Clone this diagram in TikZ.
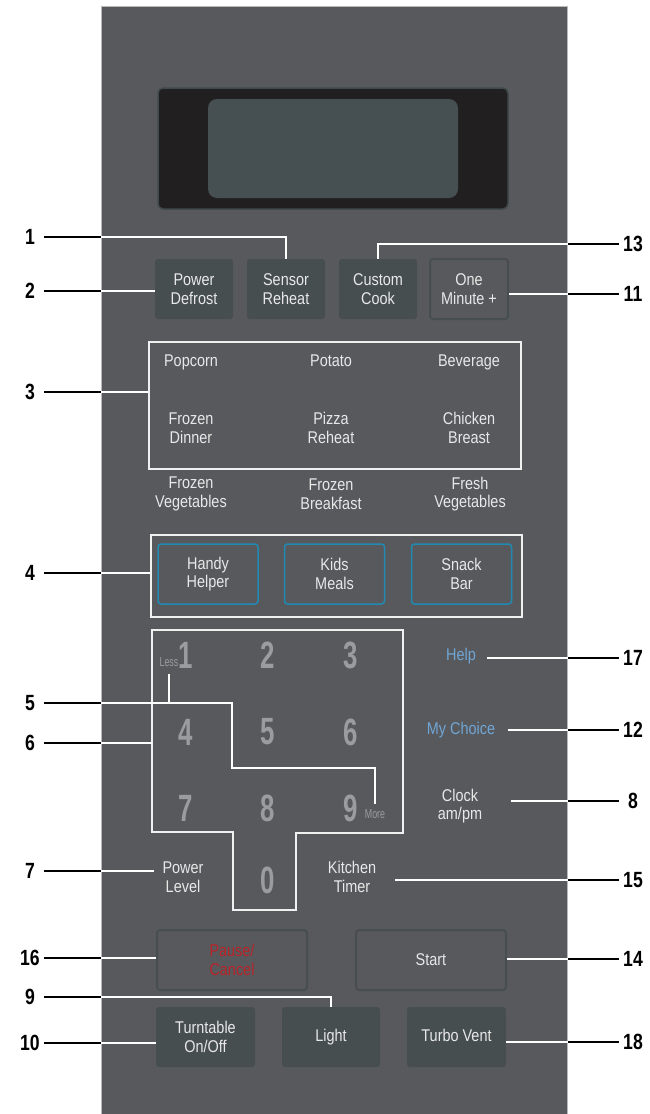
\documentclass[tikz,border=0pt]{standalone}
\usepackage{fontspec}
\setmainfont[FakeStretch=0.85]{Liberation Sans}
\newfontfamily\keyfont[FakeStretch=0.68]{Liberation Sans}
\newfontfamily\callfont[FakeStretch=0.8]{Liberation Sans}
\usepackage{xcolor}
\definecolor{panelgray}{RGB}{88,89,93}
\definecolor{slatekey}{RGB}{71,78,80}
\definecolor{lcdblack}{RGB}{34,31,32}
\definecolor{lcdglass}{RGB}{70,79,82}
\definecolor{lcdrim}{RGB}{64,74,76}
\definecolor{keyblue}{RGB}{32,138,178}
\definecolor{helpblue}{RGB}{112,166,212}
\definecolor{pausered}{RGB}{185,35,40}
\definecolor{keytext}{RGB}{232,232,232}
\definecolor{digitgray}{RGB}{155,156,160}

% callout lines, drawn twice: black outside the panel, white on it
\newcommand{\calloutlines}{%
  \draw[leader] (c1.east) -| (sensor.north);
  \draw[leader] (c2.east) -- (c2.east -| defrost.west);
  \draw[leader] (c13.west) -| (custom.north);
  \draw[leader] (c11.west) -- (c11.west -| oneminute.east);
  \draw[leader] (c3.east) -- (c3.east -| foodbox.west);
  \draw[leader] (c4.east) -- (c4.east -| helperbox.west);
  \draw[leader] (c5.east) -| (232,768) -| ([yshift=4pt]moretag.north);
  \draw[leader] ([yshift=-6pt]lesstag.south) -- (lesstag.south |- c5.east);
  \draw[leader] (c6.east) -- (c6.east -| kpa);
  \draw[leader] (c7.east) -- (c7.east -| powerlevel.west);
  \draw[leader] (c16.east) -- (c16.east -| pause.west);
  \draw[leader] (c9.east) -| (light.north);
  \draw[leader] (c10.east) -- (c10.east -| turntable.west);
  \draw[leader] (c17.west) -- (c17.west -| help.east);
  \draw[leader] (c12.west) -- (c12.west -| mychoice.east);
  \draw[leader] (c8.west) -- (c8.west -| clock.east);
  \draw[leader] (c15.west) -- (c15.west -| timer.east);
  \draw[leader] (c14.west) -- (c14.west -| start.east);
  \draw[leader] (c18.west) -- (c18.west -| turbo.east);
}

\begin{document}
\begin{tikzpicture}[x=1pt, y=-1pt,
  pad/.style={fill=slatekey, rounded corners=3pt, minimum width=78pt, minimum height=60pt,
    inner sep=0pt, text=keytext, align=center, font=\fontsize{17}{18.5}\selectfont},
  rimpad/.style={pad, fill=panelgray, draw=slatekey, line width=2pt},
  bluepad/.style={pad, fill=panelgray, draw=keyblue, line width=1.5pt, minimum width=100pt},
  frame/.style={draw=white!88!gray, line width=1.2pt, inner sep=0pt},
  item/.style={text=keytext, align=center, inner sep=0pt, font=\fontsize{17}{18.5}\selectfont},
  digit/.style={text=digitgray, font=\keyfont\bfseries\fontsize{38}{38}\selectfont},
  tag/.style={text=digitgray, inner sep=1pt, font=\keyfont\fontsize{13}{13}\selectfont},
  callout/.style={minimum width=28pt, inner sep=0pt, font=\callfont\bfseries\fontsize{22}{22}\selectfont},
  leader/.style={line width=1.3pt}]
\useasboundingbox (0,0) rectangle (649,1114);

% panel and display
\node[fill=panelgray, draw=gray!55, line width=0.8pt, anchor=north west, inner sep=0pt,
  minimum width=466pt, minimum height=1120pt] (panel) at (101,6) {};
\node[fill=lcdblack, draw=lcdrim, line width=1.5pt, rounded corners=5pt,
  minimum width=350pt, minimum height=121pt] (lcd) at (333,148.5) {};
\node[fill=lcdglass, rounded corners=9pt, minimum width=250pt, minimum height=99pt] (glass) at (333,148.5) {};

% top keys
\node[pad] (defrost) at (194,289) {Power\\Defrost};
\node[pad] (sensor) at (286,289) {Sensor\\Reheat};
\node[pad] (custom) at (378,289) {Custom\\Cook};
\node[rimpad] (oneminute) at (469,289) {One\\Minute +};

% sensor foods
\node[frame, minimum width=372pt, minimum height=127pt] (foodbox) at (335,405.5) {};
\foreach \n/\txt/\x in {popcorn/Popcorn/191, potato/Potato/331, beverage/Beverage/469}
  \node[item, anchor=base] (\n) at (\x,366) {\txt};
\foreach \n/\txt/\x/\y in {dinner/{Frozen\\Dinner}/191/428, pizza/{Pizza\\Reheat}/331/428, chicken/{Chicken\\Breast}/469/428,
    vegetables/{Frozen\\Vegetables}/191/494, breakfast/{Frozen\\Breakfast}/331/494, fresh/{Fresh\\Vegetables}/470/494}
  \node[item] (\n) at (\x,\y) {\txt};

% helper keys
\node[frame, minimum width=371pt, minimum height=82pt] (helperbox) at (336.5,576) {};
\node[bluepad] (handy) at (208,574) {Handy\\Helper};
\node[bluepad] (kids) at (334.5,574) {Kids\\Meals};
\node[bluepad] (snack) at (461.5,574) {Snack\\Bar};

% number pad
\coordinate (kpa) at (152,630);
\draw[frame] (kpa) -- (403,630) -- (403,833) -- (296,833) -- (296,910) -- (233,910) -- (233,832) -- (152,832) -- cycle;
\foreach \d/\x/\y in {1/186/655, 2/268/655, 3/351/655, 4/186/732, 5/268/732, 6/351/732,
    7/186/808, 8/268/808, 9/351/808, 0/268/880}
  \node[digit] (k\d) at (\x,\y) {\d};
\node[tag] (lesstag) at (169,662) {Less};
\node[tag] (moretag) at (375,814) {More};

% side keys
\node[item, text=helpblue, minimum width=52pt] (help) at (461,656) {Help};
\node[item, text=helpblue, minimum width=94pt] (mychoice) at (461,730) {My Choice};
\node[item, minimum width=102pt] (clock) at (460,806) {Clock\\am/pm};
\node[item, minimum width=58pt] (powerlevel) at (183,877) {Power\\Level};
\node[item, minimum width=86pt] (timer) at (352,877) {Kitchen\\Timer};

% bottom keys
\node[rimpad, minimum width=150pt, text=pausered] (pause) at (232,960) {Pause/\\Cancel};
\node[rimpad, minimum width=150pt] (start) at (431,960) {Start};
\node[pad, minimum width=99pt] (turntable) at (205.5,1037) {Turntable\\On/Off};
\node[pad, minimum width=98pt] (light) at (331,1037) {Light\vphantom{T}};
\node[pad, minimum width=99pt] (turbo) at (456.5,1037) {Turbo Vent\vphantom{g}};

% callout numbers
\foreach \n/\y in {1/237, 2/291, 3/392, 4/573, 5/703, 6/743, 7/871, 16/958, 9/997, 10/1043}
  \node[callout] (c\n) at (30,\y) {\n};
\foreach \n/\y in {13/244, 11/294, 17/658, 12/730, 8/801, 15/880, 14/959, 18/1042}
  \node[callout] (c\n) at (633,\y) {\n};

\calloutlines
\begin{scope}
  \clip (panel.north west) rectangle (panel.south east);
  \tikzset{leader/.style={white, line width=1.3pt}}
  \calloutlines
\end{scope}
\end{tikzpicture}
\end{document}
